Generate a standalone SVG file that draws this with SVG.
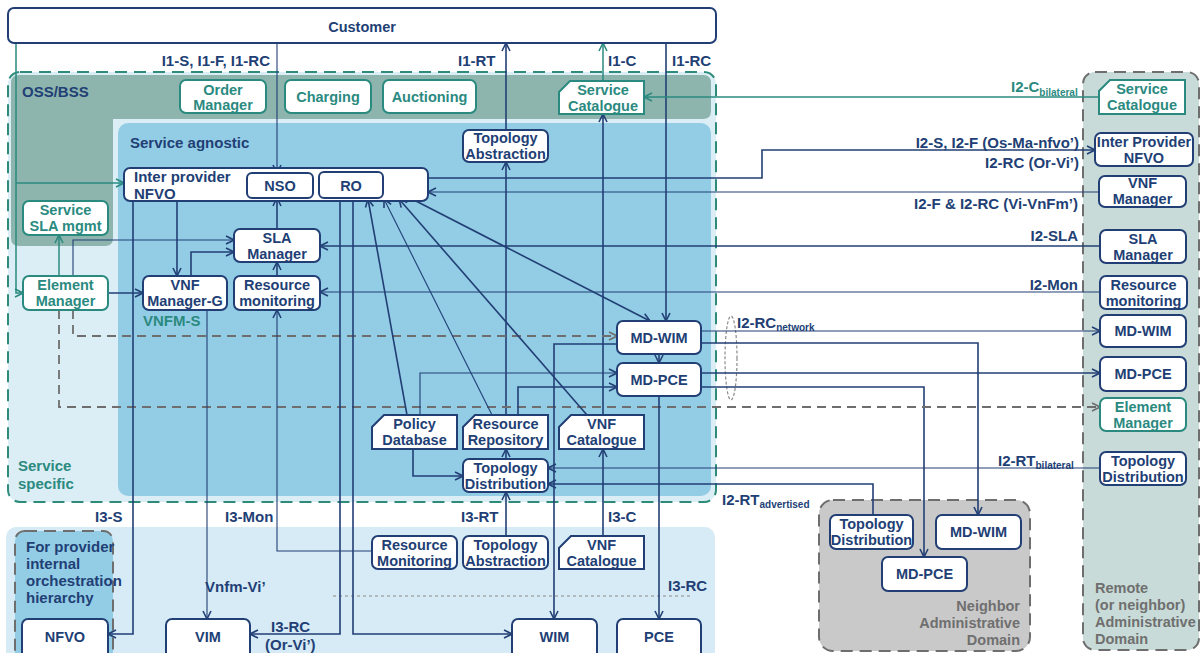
<svg xmlns="http://www.w3.org/2000/svg" width="1202" height="653" viewBox="0 0 1202 653">
  <style>
    text { font-family: "Liberation Sans", Arial, sans-serif; font-weight: bold; }
    .lbl { font-size: 15px; fill: #223f75; }
    .sub { font-size: 10px; }
    .tl { fill: #2b8a7f; }
    .gt { fill: #6f6f6f; font-size: 14.5px; }
    .nt { font-size: 14.5px; fill: #223f75; text-anchor: middle; }
    .nt.tl { fill: #2b8a7f; }
    .box { fill: #ffffff; stroke: #223f75; stroke-width: 2; }
    .tbox { fill: #ffffff; stroke: #2b8a7f; stroke-width: 2; }
    .c { fill: none; stroke: #223f75; stroke-width: 1.6; }
    .thin { stroke-width: 1.1; }
    .tc { fill: none; stroke: #2b8a7f; stroke-width: 1.5; }
    .dc { fill: none; stroke: #6e6e6e; stroke-width: 1.8; stroke-dasharray: 9 6; }
  </style>
  <defs>
    <marker id="aN" viewBox="0 0 10 10" refX="9" refY="5" markerWidth="10" markerHeight="10" markerUnits="userSpaceOnUse" orient="auto">
      <path d="M1,1 L9,5 L1,9" fill="none" stroke="#223f75" stroke-width="1.6"/>
    </marker>
    <marker id="aT" viewBox="0 0 10 10" refX="9" refY="5" markerWidth="10" markerHeight="10" markerUnits="userSpaceOnUse" orient="auto">
      <path d="M1,1 L9,5 L1,9" fill="none" stroke="#2b8a7f" stroke-width="1.6"/>
    </marker>
    <marker id="aG" viewBox="0 0 10 10" refX="9" refY="5" markerWidth="10" markerHeight="10" markerUnits="userSpaceOnUse" orient="auto">
      <path d="M1,1 L9,5 L1,9" fill="none" stroke="#6e6e6e" stroke-width="1.6"/>
    </marker>
  </defs>

  <rect width="1202" height="653" fill="#ffffff"/>

  <!-- domain backgrounds -->
  <g id="areas">
    <rect x="8" y="72" width="708" height="430" rx="12" fill="#dbeef6"/>
    <path d="M19,75 H703 Q711,75 711,83 V111 Q711,119 703,119 H113 V238 Q113,246 105,246 H19 Q11,246 11,238 V83 Q11,75 19,75 Z" fill="#8db5ae"/>
    <rect x="118" y="123" width="593" height="373" rx="10" fill="#93cde5"/>
    <rect x="8" y="72" width="708" height="430" rx="12" fill="none" stroke="#2e8b7a" stroke-width="2" stroke-dasharray="12 7"/>
    <rect x="6" y="527" width="709" height="140" rx="10" fill="#d6ebf5"/>
    <rect x="15" y="531" width="98" height="135" rx="10" fill="#93cde5" stroke="#6e6e6e" stroke-width="2" stroke-dasharray="12 7"/>
    <rect x="1083" y="72" width="116" height="578" rx="12" fill="#c8dbd8" stroke="#6e6e6e" stroke-width="2" stroke-dasharray="12 7"/>
    <rect x="819" y="500" width="211" height="151" rx="14" fill="#c9c9c9" stroke="#6e6e6e" stroke-width="2" stroke-dasharray="12 7"/>
    <path d="M333,596 H690" fill="none" stroke="#8a8a8a" stroke-width="1.2" stroke-dasharray="3 3"/>
    <ellipse cx="731" cy="358" rx="6" ry="42" fill="none" stroke="#8a8a8a" stroke-width="1.2" stroke-dasharray="3 2"/>
  </g>

  <!-- connectors -->
  <g id="connectors">
    <path class="tc" d="M16,43 V293 H23" marker-end="url(#aT)"/>
    <path class="tc" d="M16,183 H124" marker-end="url(#aT)"/>
    <path class="c thin" d="M277,43 V173" marker-end="url(#aN)"/>
    <path class="c" d="M506,130 V43" marker-end="url(#aN)"/>
    <path class="c" d="M506,415 V162" marker-end="url(#aN)"/>
    <path class="c" d="M506,459 V449" marker-end="url(#aN)"/>
    <path class="c" d="M506,536 V492" marker-end="url(#aN)"/>
    <path class="tc" d="M603,81 V43" marker-end="url(#aT)"/>
    <path class="c" d="M603,415 V114" marker-end="url(#aN)"/>
    <path class="c" d="M603,536 V449" marker-end="url(#aN)"/>
    <path class="c" d="M666,43 V321" marker-end="url(#aN)"/>
    <path class="tc" d="M1099,97 H644" marker-end="url(#aT)"/>
    <path class="c" d="M428,178 H762 V150 H1095" marker-end="url(#aN)"/>
    <path class="c thin" d="M1099,192 H428" marker-end="url(#aN)"/>
    <path class="c" d="M1100,246 H320" marker-end="url(#aN)"/>
    <path class="c thin" d="M1100,292 H320" marker-end="url(#aN)"/>
    <path class="c thin" d="M701,331 H1100" marker-end="url(#aN)"/>
    <path class="c" d="M701,343 H978 V515" marker-end="url(#aN)"/>
    <path class="c" d="M701,373 H1100" marker-end="url(#aN)"/>
    <path class="c" d="M701,387 H924 V557" marker-end="url(#aN)"/>
    <path class="dc" d="M73,310 V336 H617" marker-end="url(#aG)"/>
    <path class="dc" d="M59,310 V407 H1100" marker-end="url(#aG)"/>
    <path class="c thin" d="M73,276 V240 H234" marker-end="url(#aN)"/>
    <path class="tc" d="M59,276 V235" marker-end="url(#aT)"/>
    <path class="c" d="M108,293 H143" marker-end="url(#aN)"/>
    <path class="c" d="M177,201 V276" marker-end="url(#aN)"/>
    <path class="c" d="M191,276 V252 H234" marker-end="url(#aN)"/>
    <path class="c" d="M277,276 V262" marker-end="url(#aN)"/>
    <path class="c" d="M277,229 V198" marker-end="url(#aN)"/>
    <path class="c" d="M133,201 V634 H108" marker-end="url(#aN)"/>
    <path class="c thin" d="M207,310 V619" marker-end="url(#aN)"/>
    <path class="c thin" d="M372,551 H277 V310" marker-end="url(#aN)"/>
    <path class="c" d="M340,198 V634 H250" marker-end="url(#aN)"/>
    <path class="c" d="M353,198 V634 H512" marker-end="url(#aN)"/>
    <path class="c" d="M407,415 L368,199" marker-end="url(#aN)"/>
    <path class="c thin" d="M492,415 L384,199" marker-end="url(#aN)"/>
    <path class="c" d="M587,415 L399,199" marker-end="url(#aN)"/>
    <path class="c" d="M412,199 L650,321" marker-end="url(#aN)"/>
    <path class="c" d="M659,354 V363" marker-end="url(#aN)"/>
    <path class="c" d="M617,344 H554 V619" marker-end="url(#aN)"/>
    <path class="c" d="M659,396 V619" marker-end="url(#aN)"/>
    <path class="c thin" d="M420,415 V373 H617" marker-end="url(#aN)"/>
    <path class="c" d="M518,415 V387 H617" marker-end="url(#aN)"/>
    <path class="c" d="M413,449 V476 H463" marker-end="url(#aN)"/>
    <path class="c thin" d="M1100,468 H548" marker-end="url(#aN)"/>
    <path class="c" d="M873,515 V484 H548" marker-end="url(#aN)"/>
  </g>

  <!-- nodes -->
  <g id="customer">
    <rect class="box" x="8" y="8" width="708" height="35" rx="6" stroke-width="1.6"/>
    <text class="nt" x="362" y="32" font-size="15.5">Customer</text>
  </g>

  <g id="order-manager">
    <rect class="tbox" x="180" y="80" width="86" height="33" rx="6"/>
    <text class="nt tl" x="223" y="95">Order</text>
    <text class="nt tl" x="223" y="110">Manager</text>
  </g>
  <g id="charging">
    <rect class="tbox" x="285" y="80" width="86" height="33" rx="6"/>
    <text class="nt tl" x="328" y="102">Charging</text>
  </g>
  <g id="auctioning">
    <rect class="tbox" x="383" y="80" width="93" height="33" rx="6"/>
    <text class="nt tl" x="429.5" y="102">Auctioning</text>
  </g>
  <g id="service-catalogue">
    <path class="tbox" d="M570,81 H644 V114 H559 V92 Z"/>
    <text class="nt tl" x="603" y="95">Service</text>
    <text class="nt tl" x="603" y="111">Catalogue</text>
  </g>

  <g id="topology-abstraction">
    <rect class="box" x="463" y="130" width="85" height="32" rx="6"/>
    <text class="nt" x="505.5" y="143">Topology</text>
    <text class="nt" x="505.5" y="159">Abstraction</text>
  </g>
  <g id="inter-provider-nfvo">
    <rect class="box" x="124" y="168" width="304" height="33" rx="6"/>
    <text class="lbl" x="134" y="182" font-size="14.5">Inter provider</text>
    <text class="lbl" x="134" y="199" font-size="14.5">NFVO</text>
    <rect class="box" x="247" y="173" width="66" height="25" rx="5"/>
    <text class="nt" x="280" y="191">NSO</text>
    <rect class="box" x="319" y="172" width="64" height="26" rx="5"/>
    <text class="nt" x="351" y="191">RO</text>
  </g>
  <g id="service-sla-mgmt">
    <rect class="tbox" x="23" y="201" width="85" height="34" rx="6"/>
    <text class="nt tl" x="65.5" y="215">Service</text>
    <text class="nt tl" x="65.5" y="231">SLA mgmt</text>
  </g>
  <g id="element-manager">
    <rect class="tbox" x="23" y="276" width="85" height="34" rx="6"/>
    <text class="nt tl" x="65.5" y="290">Element</text>
    <text class="nt tl" x="65.5" y="306">Manager</text>
  </g>
  <g id="sla-manager">
    <rect class="box" x="234" y="229" width="86" height="33" rx="6"/>
    <text class="nt" x="277" y="243">SLA</text>
    <text class="nt" x="277" y="259">Manager</text>
  </g>
  <g id="vnf-manager-g">
    <rect class="box" x="143" y="276" width="84" height="34" rx="6"/>
    <text class="nt" x="185" y="290">VNF</text>
    <text class="nt" x="185" y="306">Manager-G</text>
    <text class="lbl tl" x="143" y="326" font-size="14.5">VNFM-S</text>
  </g>
  <g id="resource-monitoring">
    <rect class="box" x="234" y="276" width="86" height="34" rx="6"/>
    <text class="nt" x="277" y="290">Resource</text>
    <text class="nt" x="277" y="306">monitoring</text>
  </g>
  <g id="md-wim">
    <rect class="box" x="617" y="321" width="84" height="33" rx="6"/>
    <text class="nt" x="659" y="343">MD-WIM</text>
  </g>
  <g id="md-pce">
    <rect class="box" x="617" y="363" width="84" height="33" rx="6"/>
    <text class="nt" x="659" y="385">MD-PCE</text>
  </g>
  <g id="policy-database">
    <path class="box" d="M384,415 H457 V449 H372 V427 Z"/>
    <text class="nt" x="414.5" y="429">Policy</text>
    <text class="nt" x="414.5" y="445">Database</text>
  </g>
  <g id="resource-repository">
    <path class="box" d="M475,415 H548 V449 H463 V427 Z"/>
    <text class="nt" x="505.5" y="429">Resource</text>
    <text class="nt" x="505.5" y="445">Repository</text>
  </g>
  <g id="vnf-catalogue">
    <path class="box" d="M571,415 H644 V449 H559 V427 Z"/>
    <text class="nt" x="601.5" y="429">VNF</text>
    <text class="nt" x="601.5" y="445">Catalogue</text>
  </g>
  <g id="topology-distribution">
    <rect class="box" x="463" y="459" width="85" height="33" rx="6"/>
    <text class="nt" x="505.5" y="473">Topology</text>
    <text class="nt" x="505.5" y="489">Distribution</text>
  </g>

  <g id="nfvo">
    <rect class="box" x="22" y="619" width="86" height="45" rx="6"/>
    <text class="nt" x="65" y="642">NFVO</text>
  </g>
  <g id="vim">
    <rect class="box" x="166" y="619" width="84" height="45" rx="6"/>
    <text class="nt" x="208" y="642">VIM</text>
  </g>
  <g id="resource-monitoring-i3">
    <rect class="box" x="372" y="536" width="85" height="33" rx="6"/>
    <text class="nt" x="414.5" y="550">Resource</text>
    <text class="nt" x="414.5" y="566">Monitoring</text>
  </g>
  <g id="topology-abstraction-i3">
    <rect class="box" x="463" y="536" width="85" height="33" rx="6"/>
    <text class="nt" x="505.5" y="550">Topology</text>
    <text class="nt" x="505.5" y="566">Abstraction</text>
  </g>
  <g id="vnf-catalogue-i3">
    <path class="box" d="M571,536 H644 V569 H559 V548 Z"/>
    <text class="nt" x="601.5" y="550">VNF</text>
    <text class="nt" x="601.5" y="566">Catalogue</text>
  </g>
  <g id="wim">
    <rect class="box" x="512" y="619" width="85" height="45" rx="6"/>
    <text class="nt" x="554.5" y="642">WIM</text>
  </g>
  <g id="pce">
    <rect class="box" x="617" y="619" width="84" height="45" rx="6"/>
    <text class="nt" x="659" y="642">PCE</text>
  </g>

  <g id="remote-service-catalogue">
    <path class="tbox" d="M1110,80 H1185 V114 H1099 V91 Z"/>
    <text class="nt tl" x="1142" y="94">Service</text>
    <text class="nt tl" x="1142" y="110">Catalogue</text>
  </g>
  <g id="remote-nfvo">
    <rect class="box" x="1095" y="133" width="98" height="33" rx="6"/>
    <text class="nt" x="1144" y="147">Inter Provider</text>
    <text class="nt" x="1144" y="163">NFVO</text>
  </g>
  <g id="remote-vnf-manager">
    <rect class="box" x="1099" y="176" width="87" height="31" rx="6"/>
    <text class="nt" x="1142.5" y="188">VNF</text>
    <text class="nt" x="1142.5" y="204">Manager</text>
  </g>
  <g id="remote-sla-manager">
    <rect class="box" x="1100" y="230" width="86" height="33" rx="6"/>
    <text class="nt" x="1143" y="244">SLA</text>
    <text class="nt" x="1143" y="260">Manager</text>
  </g>
  <g id="remote-resource-monitoring">
    <rect class="box" x="1100" y="276" width="87" height="33" rx="6"/>
    <text class="nt" x="1143.5" y="290">Resource</text>
    <text class="nt" x="1143.5" y="306">monitoring</text>
  </g>
  <g id="remote-md-wim">
    <rect class="box" x="1100" y="315" width="86" height="32" rx="6"/>
    <text class="nt" x="1143" y="336">MD-WIM</text>
  </g>
  <g id="remote-md-pce">
    <rect class="box" x="1100" y="357" width="86" height="34" rx="6"/>
    <text class="nt" x="1143" y="379">MD-PCE</text>
  </g>
  <g id="remote-element-manager">
    <rect class="tbox" x="1100" y="398" width="86" height="33" rx="6"/>
    <text class="nt tl" x="1143" y="412">Element</text>
    <text class="nt tl" x="1143" y="428">Manager</text>
  </g>
  <g id="remote-topology-distribution">
    <rect class="box" x="1100" y="452" width="86" height="33" rx="6"/>
    <text class="nt" x="1143" y="466">Topology</text>
    <text class="nt" x="1143" y="482">Distribution</text>
  </g>

  <g id="neighbor-topology-distribution">
    <rect class="box" x="830" y="515" width="83" height="34" rx="6"/>
    <text class="nt" x="871.5" y="529">Topology</text>
    <text class="nt" x="871.5" y="545">Distribution</text>
  </g>
  <g id="neighbor-md-wim">
    <rect class="box" x="936" y="515" width="85" height="34" rx="6"/>
    <text class="nt" x="978.5" y="537">MD-WIM</text>
  </g>
  <g id="neighbor-md-pce">
    <rect class="box" x="882" y="557" width="85" height="34" rx="6"/>
    <text class="nt" x="924.5" y="579">MD-PCE</text>
  </g>

  <!-- area titles and interface labels -->
  <g id="labels">
    <text class="lbl" x="22" y="97">OSS/BSS</text>
    <text class="lbl" x="130" y="148">Service agnostic</text>
    <text class="lbl tl" x="18" y="471" font-size="16">Service</text>
    <text class="lbl tl" x="18" y="489" font-size="16">specific</text>
    <text class="lbl" x="26" y="552" font-size="13">For provider</text>
    <text class="lbl" x="26" y="569" font-size="13">internal</text>
    <text class="lbl" x="26" y="586" font-size="13">orchestration</text>
    <text class="lbl" x="26" y="603" font-size="13">hierarchy</text>
    <text class="gt" x="1020" y="611" text-anchor="end">Neighbor</text>
    <text class="gt" x="1020" y="628" text-anchor="end">Administrative</text>
    <text class="gt" x="1020" y="645" text-anchor="end">Domain</text>
    <text class="gt" x="1095" y="593">Remote</text>
    <text class="gt" x="1095" y="610">(or neighbor)</text>
    <text class="gt" x="1095" y="627">Administrative</text>
    <text class="gt" x="1095" y="644">Domain</text>

    <text class="lbl" x="270" y="66" text-anchor="end">I1-S, I1-F, I1-RC</text>
    <text class="lbl" x="458" y="66">I1-RT</text>
    <text class="lbl" x="608" y="66">I1-C</text>
    <text class="lbl" x="672" y="66">I1-RC</text>
    <text class="lbl tl" x="1011" y="92">I2-C<tspan class="sub" dy="4">bilateral</tspan></text>
    <text class="lbl" x="1079" y="148" text-anchor="end">I2-S, I2-F (Os-Ma-nfvo’)</text>
    <text class="lbl" x="1079" y="168" text-anchor="end">I2-RC (Or-Vi’)</text>
    <text class="lbl" x="1078" y="209" text-anchor="end">I2-F &amp; I2-RC (Vi-VnFm’)</text>
    <text class="lbl" x="1078" y="241" text-anchor="end">I2-SLA</text>
    <text class="lbl" x="1078" y="290" text-anchor="end">I2-Mon</text>
    <text class="lbl" x="737" y="328">I2-RC<tspan class="sub" dy="3">network</tspan></text>
    <text class="lbl" x="998" y="466">I2-RT<tspan class="sub" dy="3">bilateral</tspan></text>
    <text class="lbl" x="722" y="505">I2-RT<tspan class="sub" dy="3">advertised</tspan></text>
    <text class="lbl" x="95" y="522">I3-S</text>
    <text class="lbl" x="225" y="522">I3-Mon</text>
    <text class="lbl" x="461" y="522">I3-RT</text>
    <text class="lbl" x="608" y="522">I3-C</text>
    <text class="lbl" x="668" y="591">I3-RC</text>
    <text class="lbl" x="205" y="592">Vnfm-Vi’</text>
    <text class="lbl" x="271" y="632">I3-RC</text>
    <text class="lbl" x="265" y="650">(Or-Vi’)</text>
  </g>
</svg>
